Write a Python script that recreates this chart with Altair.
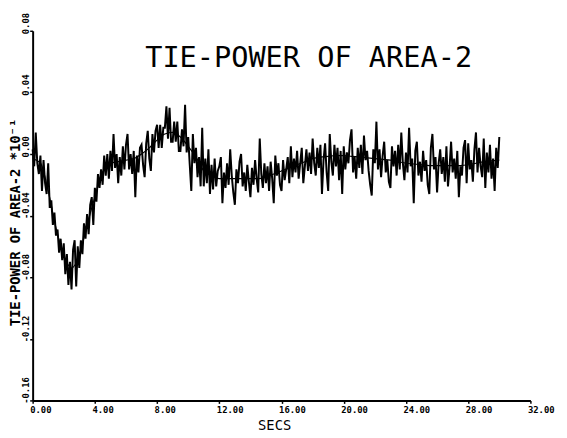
import altair as alt
import numpy as np
import pandas as pd

# noisy simulated trace, sampled every 0.1 s from 0 to 30 s
t_start, t_step = 0.0, 0.1
noisy = [
    0.003, -0.008, 0.014, -0.006, -0.013, -0.001, -0.024, -0.004, -0.019, -0.026,
    -0.006, -0.035, -0.030, -0.046, -0.038, -0.053, -0.049, -0.064, -0.055, -0.069,
    -0.058, -0.078, -0.065, -0.085, -0.070, -0.088, -0.062, -0.056, -0.086, -0.060,
    -0.074, -0.056, -0.065, -0.045, -0.055, -0.039, -0.052, -0.033, -0.028, -0.046,
    -0.022, -0.031, -0.013, -0.022, -0.010, -0.020, -0.001, -0.014, 0.000, -0.016,
    0.002, -0.011, 0.013, -0.009, 0.000, -0.019, -0.002, -0.014, 0.005, -0.010,
    0.006, 0.013, -0.010, 0.000, -0.013, 0.002, -0.028, -0.001, -0.012, 0.004,
    0.006, -0.007, -0.015, 0.007, 0.015, -0.003, -0.011, 0.013, 0.001, 0.015,
    0.019, 0.004, 0.019, 0.004, 0.017, 0.017, 0.031, 0.010, 0.030, 0.008,
    0.008, 0.021, 0.008, 0.021, 0.002, 0.002, 0.016, 0.005, 0.032, 0.001,
    0.011, -0.007, -0.024, 0.013, -0.006, 0.004, -0.015, -0.002, -0.021, 0.017,
    -0.021, -0.003, -0.019, 0.003, -0.026, -0.007, -0.023, -0.003, -0.021, -0.011,
    -0.008, -0.002, -0.032, -0.012, -0.022, -0.006, -0.020, 0.003, -0.014, -0.025,
    -0.033, -0.010, -0.019, -0.005, 0.000, -0.021, -0.012, -0.024, -0.007, -0.018,
    -0.028, -0.009, -0.020, -0.004, -0.016, -0.025, 0.010, -0.013, -0.022, -0.006,
    -0.019, -0.008, -0.024, -0.005, -0.016, -0.032, -0.001, -0.014, -0.006, -0.020,
    -0.024, -0.004, -0.017, -0.010, -0.002, -0.019, 0.005, -0.015, -0.003, -0.012,
    0.002, -0.016, -0.006, 0.004, -0.019, -0.008, 0.003, -0.011, 0.001, -0.013,
    0.010, -0.006, -0.014, 0.004, -0.009, 0.006, -0.026, -0.004, 0.007, -0.012,
    -0.024, 0.013, -0.005, -0.014, 0.006, -0.008, 0.004, -0.017, 0.002, -0.026,
    0.005, -0.010, 0.001, -0.006, 0.009, 0.016, -0.012, -0.002, -0.016, 0.004,
    -0.009, 0.006, -0.013, 0.012, -0.004, 0.002, -0.011, -0.020, -0.027, 0.003,
    -0.006, 0.021, -0.010, 0.003, -0.015, -0.001, 0.008, -0.012, -0.004, -0.018,
    -0.022, 0.005, -0.008, 0.002, -0.014, 0.006, -0.010, 0.014, -0.006, -0.017,
    0.001, -0.012, 0.017, -0.008, -0.003, -0.032, 0.002, 0.008, -0.014, -0.005,
    -0.018, 0.002, -0.011, -0.004, -0.020, -0.026, 0.004, 0.013, -0.010, -0.002,
    -0.025, -0.006, 0.003, -0.013, -0.002, -0.018, 0.005, -0.021, -0.009, 0.008,
    -0.012, -0.003, -0.016, 0.002, -0.028, -0.008, -0.014, 0.004, 0.009, -0.019,
    0.007, -0.010, -0.004, -0.018, 0.003, 0.014, -0.012, 0.004, -0.008, -0.015,
    0.010, -0.022, 0.001, -0.012, 0.006, -0.016, -0.003, -0.024, 0.004, -0.009,
    0.011,
]

# smooth (analytic) response, every 0.5 s from 0 to 30 s
smooth_step = 0.5
smooth = [
    -0.003, -0.006, -0.024, -0.048, -0.066, -0.074, -0.066, -0.046, -0.028, -0.012,
    -0.006, -0.005, -0.004, -0.003, 0.000, 0.004, 0.009, 0.013, 0.014, 0.011,
    0.005, -0.002, -0.011, -0.014, -0.016, -0.016, -0.016, -0.016, -0.016, -0.016,
    -0.015, -0.013, -0.011, -0.009, -0.007, -0.005, -0.003, -0.002, -0.0015, -0.001,
    -0.001, -0.0015, -0.002, -0.0025, -0.003, -0.0035, -0.004, -0.005, -0.006, -0.0065,
    -0.007, -0.0075, -0.0075, -0.0075, -0.0075, -0.0075, -0.007, -0.006, -0.005, -0.0045,
    -0.004,
]

x_ticks = [0, 4, 8, 12, 16, 20, 24, 28, 32]
y_ticks = [-0.16, -0.12, -0.08, -0.04, 0.00, 0.04, 0.08]
title_text = "TIE-POWER OF AREA-2"
y_title = "TIE-POWER OF AREA-2 *10\u207b\u00b9"
x_title = "SECS"

noisy_df = pd.DataFrame({
    "t": np.round(t_start + t_step * np.arange(len(noisy)), 2),
    "v": noisy,
})
smooth_df = pd.DataFrame({
    "t": np.round(t_start + smooth_step * np.arange(len(smooth)), 2),
    "v": smooth,
})

MONO = "DejaVu Sans Mono"
x_enc = alt.X(
    "t:Q",
    scale=alt.Scale(domain=[0, 32], nice=False, zero=False),
    axis=alt.Axis(
        values=x_ticks, format=".2f", grid=False,
        labelFont=MONO, labelFontSize=9, labelFontWeight="bold", labelColor="black",
        labelAlign="left", labelOffset=-3,
        labelPadding=2, tickSize=3, tickColor="black", tickWidth=1.5,
        domainColor="black", domainWidth=2,
        title=x_title, titleFont=MONO, titleFontSize=14, titleFontWeight="normal",
        titleColor="black", titleX=245, titleY=30, titleBaseline="alphabetic",
        titleAlign="center",
    ),
)
y_enc = alt.Y(
    "v:Q",
    scale=alt.Scale(domain=[-0.16, 0.08], nice=False, zero=False),
    axis=alt.Axis(
        values=y_ticks, grid=False,
        labelExpr="replace(format(datum.value, '.2f'), '\u2212', '-')",
        labelFont=MONO, labelFontSize=9, labelFontWeight="bold", labelColor="black",
        labelAngle=270, labelAlign="left", labelBaseline="alphabetic",
        labelOffset=3, labelPadding=1,
        tickSize=3, tickColor="black", tickWidth=1.5,
        domainColor="black", domainWidth=2,
        title=y_title, titleFont=MONO, titleFontSize=14, titleFontWeight="bold",
        titleColor="black", titleAngle=270, titleX=-17, titleY=194,
        titleAlign="center", titleBaseline="middle",
    ),
)

noisy_line = alt.Chart(noisy_df).mark_line(color="black", strokeWidth=2).encode(
    x=x_enc, y=y_enc
)
smooth_line = alt.Chart(smooth_df).mark_line(
    color="black", strokeWidth=1.2, interpolate="monotone"
).encode(x="t:Q", y="v:Q")

title_mark = alt.Chart(pd.DataFrame({"label": [title_text]})).mark_text(
    font=MONO, fontSize=29, color="black", align="center", baseline="alphabetic"
).encode(text="label:N", x=alt.value(280), y=alt.value(37))

chart = alt.layer(noisy_line, smooth_line, title_mark).properties(
    width=505,
    height=375,
    padding={"left": 25, "top": 20, "right": 29, "bottom": 35},
    autosize=alt.AutoSizeParams(type="none"),
    background="white",
).configure_view(stroke=None)

chart.save("out.html", embed_options={"renderer": "svg", "actions": False})
